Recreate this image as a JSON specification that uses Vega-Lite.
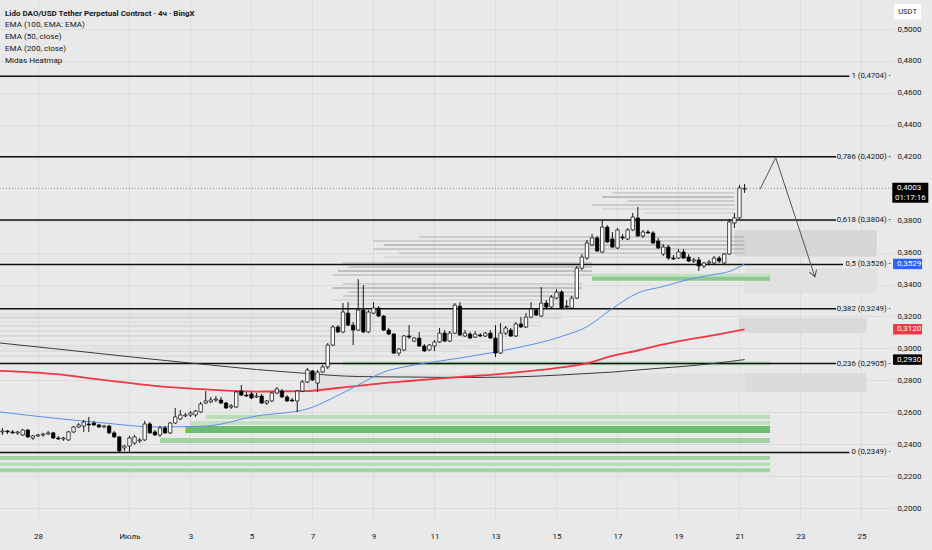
{
"$schema": "https://vega.github.io/schema/vega-lite/v6.json",
"width": 893, "height": 522,
"autosize": {"type": "none"},
"padding": {"left": 0, "top": 0, "right": 39, "bottom": 28},
"background": "#e9e9e9",
"config": {"view": {"stroke": null}, "font": "Roboto",
  "axis": {"labelOverlap": false, "labelFlush": false, "grid": true, "gridColor": "#dcdcdc", "gridWidth": 1, "domain": false, "ticks": false, "tickSize": 0, "labelFont": "Roboto", "labelFontSize": 8, "labelColor": "#131722", "zindex": 0},
  "axisY": {"labelAlign": "left", "labelBaseline": "middle", "labelPadding": 4},
  "axisX": {"labelPadding": 10}},
"title": {"text": "Lido DAO/USD Tether Perpetual Contract · 4ч · BingX", "subtitle": ["EMA (100, EMA: EMA)", "EMA (50, close)", "EMA (200, close)", "Midas Heatmap"], "anchor": "start", "frame": "group", "orient": "top", "offset": -65, "dx": 5, "font": "Roboto", "fontSize": 8, "fontWeight": "bold", "color": "#131722", "subtitleFont": "Roboto", "subtitleFontSize": 8.1, "subtitleColor": "#131722", "subtitlePadding": 2.5, "subtitleLineHeight": 12},
"datasets": {
"candles": [
{"t":"2024-06-26T20:00Z","o":0.2477,"h":0.2502,"l":0.2458,"c":0.2483},
{"t":"2024-06-27T00:00Z","o":0.2483,"h":0.2489,"l":0.2464,"c":0.2477},
{"t":"2024-06-27T04:00Z","o":0.2477,"h":0.2489,"l":0.2464,"c":0.2471},
{"t":"2024-06-27T08:00Z","o":0.2471,"h":0.2483,"l":0.2458,"c":0.2477},
{"t":"2024-06-27T12:00Z","o":0.2458,"h":0.2496,"l":0.2452,"c":0.2489},
{"t":"2024-06-27T16:00Z","o":0.2489,"h":0.2496,"l":0.2439,"c":0.2446},
{"t":"2024-06-27T20:00Z","o":0.2439,"h":0.2458,"l":0.2427,"c":0.2452},
{"t":"2024-06-28T00:00Z","o":0.2452,"h":0.2464,"l":0.2446,"c":0.2458},
{"t":"2024-06-28T04:00Z","o":0.2458,"h":0.2471,"l":0.2446,"c":0.2464},
{"t":"2024-06-28T08:00Z","o":0.2464,"h":0.2483,"l":0.2458,"c":0.2471},
{"t":"2024-06-28T12:00Z","o":0.2471,"h":0.2477,"l":0.2433,"c":0.2439},
{"t":"2024-06-28T16:00Z","o":0.2439,"h":0.2452,"l":0.2427,"c":0.2433},
{"t":"2024-06-28T20:00Z","o":0.2433,"h":0.2446,"l":0.2421,"c":0.2439},
{"t":"2024-06-29T00:00Z","o":0.2427,"h":0.2483,"l":0.2421,"c":0.2477},
{"t":"2024-06-29T04:00Z","o":0.2477,"h":0.2514,"l":0.2471,"c":0.2508},
{"t":"2024-06-29T08:00Z","o":0.2508,"h":0.2533,"l":0.2502,"c":0.2521},
{"t":"2024-06-29T12:00Z","o":0.2514,"h":0.2552,"l":0.2477,"c":0.2539},
{"t":"2024-06-29T16:00Z","o":0.2527,"h":0.2571,"l":0.2477,"c":0.2521},
{"t":"2024-06-29T20:00Z","o":0.2533,"h":0.2546,"l":0.2514,"c":0.2521},
{"t":"2024-06-30T00:00Z","o":0.2521,"h":0.2527,"l":0.2502,"c":0.2508},
{"t":"2024-06-30T04:00Z","o":0.2508,"h":0.2521,"l":0.2502,"c":0.2514},
{"t":"2024-06-30T08:00Z","o":0.2514,"h":0.2521,"l":0.2464,"c":0.2471},
{"t":"2024-06-30T12:00Z","o":0.2471,"h":0.2483,"l":0.2439,"c":0.2446},
{"t":"2024-06-30T16:00Z","o":0.2446,"h":0.2452,"l":0.2352,"c":0.2358},
{"t":"2024-06-30T20:00Z","o":0.2377,"h":0.2396,"l":0.2358,"c":0.2389},
{"t":"2024-07-01T00:00Z","o":0.2389,"h":0.2452,"l":0.2349,"c":0.2439},
{"t":"2024-07-01T04:00Z","o":0.2408,"h":0.2458,"l":0.2396,"c":0.2446},
{"t":"2024-07-01T08:00Z","o":0.2421,"h":0.2439,"l":0.2408,"c":0.2427},
{"t":"2024-07-01T12:00Z","o":0.2427,"h":0.2546,"l":0.2421,"c":0.2527},
{"t":"2024-07-01T16:00Z","o":0.2527,"h":0.2539,"l":0.2464,"c":0.2471},
{"t":"2024-07-01T20:00Z","o":0.2477,"h":0.2489,"l":0.2452,"c":0.2458},
{"t":"2024-07-02T00:00Z","o":0.2458,"h":0.2514,"l":0.2446,"c":0.2502},
{"t":"2024-07-02T04:00Z","o":0.2502,"h":0.2514,"l":0.2464,"c":0.2471},
{"t":"2024-07-02T08:00Z","o":0.2471,"h":0.2539,"l":0.2464,"c":0.2533},
{"t":"2024-07-02T12:00Z","o":0.2533,"h":0.2627,"l":0.2527,"c":0.2571},
{"t":"2024-07-02T16:00Z","o":0.2558,"h":0.2615,"l":0.2552,"c":0.2583},
{"t":"2024-07-02T20:00Z","o":0.2577,"h":0.2596,"l":0.2571,"c":0.2583},
{"t":"2024-07-03T00:00Z","o":0.2583,"h":0.2608,"l":0.2571,"c":0.2596},
{"t":"2024-07-03T04:00Z","o":0.2583,"h":0.2615,"l":0.2571,"c":0.2608},
{"t":"2024-07-03T08:00Z","o":0.2602,"h":0.2665,"l":0.2596,"c":0.2652},
{"t":"2024-07-03T12:00Z","o":0.2658,"h":0.2733,"l":0.2652,"c":0.2671},
{"t":"2024-07-03T16:00Z","o":0.2665,"h":0.2696,"l":0.2658,"c":0.2677},
{"t":"2024-07-03T20:00Z","o":0.2677,"h":0.2702,"l":0.2665,"c":0.2683},
{"t":"2024-07-04T00:00Z","o":0.2677,"h":0.2696,"l":0.2652,"c":0.2658},
{"t":"2024-07-04T04:00Z","o":0.2658,"h":0.2665,"l":0.2621,"c":0.2627},
{"t":"2024-07-04T08:00Z","o":0.2633,"h":0.2652,"l":0.2621,"c":0.2640},
{"t":"2024-07-04T12:00Z","o":0.2633,"h":0.2733,"l":0.2627,"c":0.2727},
{"t":"2024-07-04T16:00Z","o":0.2733,"h":0.2771,"l":0.2702,"c":0.2708},
{"t":"2024-07-04T20:00Z","o":0.2708,"h":0.2727,"l":0.2696,"c":0.2702},
{"t":"2024-07-05T00:00Z","o":0.2715,"h":0.2727,"l":0.2683,"c":0.2690},
{"t":"2024-07-05T04:00Z","o":0.2696,"h":0.2721,"l":0.2690,"c":0.2702},
{"t":"2024-07-05T08:00Z","o":0.2702,"h":0.2715,"l":0.2652,"c":0.2658},
{"t":"2024-07-05T12:00Z","o":0.2658,"h":0.2677,"l":0.2646,"c":0.2671},
{"t":"2024-07-05T16:00Z","o":0.2671,"h":0.2727,"l":0.2665,"c":0.2721},
{"t":"2024-07-05T20:00Z","o":0.2721,"h":0.2758,"l":0.2715,"c":0.2746},
{"t":"2024-07-06T00:00Z","o":0.2733,"h":0.2746,"l":0.2690,"c":0.2696},
{"t":"2024-07-06T04:00Z","o":0.2696,"h":0.2708,"l":0.2665,"c":0.2671},
{"t":"2024-07-06T08:00Z","o":0.2677,"h":0.2690,"l":0.2665,"c":0.2671},
{"t":"2024-07-06T12:00Z","o":0.2671,"h":0.2740,"l":0.2602,"c":0.2733},
{"t":"2024-07-06T16:00Z","o":0.2733,"h":0.2802,"l":0.2727,"c":0.2790},
{"t":"2024-07-06T20:00Z","o":0.2790,"h":0.2877,"l":0.2783,"c":0.2865},
{"t":"2024-07-07T00:00Z","o":0.2859,"h":0.2865,"l":0.2796,"c":0.2802},
{"t":"2024-07-07T04:00Z","o":0.2783,"h":0.2865,"l":0.2727,"c":0.2852},
{"t":"2024-07-07T08:00Z","o":0.2852,"h":0.2896,"l":0.2846,"c":0.2884},
{"t":"2024-07-07T12:00Z","o":0.2884,"h":0.3034,"l":0.2871,"c":0.3021},
{"t":"2024-07-07T16:00Z","o":0.3021,"h":0.3146,"l":0.3015,"c":0.3134},
{"t":"2024-07-07T20:00Z","o":0.3134,"h":0.3146,"l":0.3096,"c":0.3103},
{"t":"2024-07-08T00:00Z","o":0.3103,"h":0.3284,"l":0.3096,"c":0.3228},
{"t":"2024-07-08T04:00Z","o":0.3221,"h":0.3290,"l":0.3140,"c":0.3146},
{"t":"2024-07-08T08:00Z","o":0.3146,"h":0.3165,"l":0.3021,"c":0.3115},
{"t":"2024-07-08T12:00Z","o":0.3115,"h":0.3434,"l":0.3109,"c":0.3240},
{"t":"2024-07-08T16:00Z","o":0.3240,"h":0.3397,"l":0.3096,"c":0.3103},
{"t":"2024-07-08T20:00Z","o":0.3103,"h":0.3240,"l":0.3096,"c":0.3228},
{"t":"2024-07-09T00:00Z","o":0.3221,"h":0.3290,"l":0.3215,"c":0.3253},
{"t":"2024-07-09T04:00Z","o":0.3253,"h":0.3265,"l":0.3196,"c":0.3203},
{"t":"2024-07-09T08:00Z","o":0.3203,"h":0.3209,"l":0.3109,"c":0.3115},
{"t":"2024-07-09T12:00Z","o":0.3115,"h":0.3128,"l":0.3084,"c":0.3090},
{"t":"2024-07-09T16:00Z","o":0.3090,"h":0.3096,"l":0.2965,"c":0.2971},
{"t":"2024-07-09T20:00Z","o":0.2971,"h":0.3002,"l":0.2953,"c":0.2996},
{"t":"2024-07-10T00:00Z","o":0.2990,"h":0.3084,"l":0.2984,"c":0.3078},
{"t":"2024-07-10T04:00Z","o":0.3078,"h":0.3146,"l":0.3059,"c":0.3071},
{"t":"2024-07-10T08:00Z","o":0.3046,"h":0.3071,"l":0.3040,"c":0.3065},
{"t":"2024-07-10T12:00Z","o":0.3065,"h":0.3103,"l":0.3009,"c":0.3015},
{"t":"2024-07-10T16:00Z","o":0.3015,"h":0.3028,"l":0.2978,"c":0.2984},
{"t":"2024-07-10T20:00Z","o":0.2990,"h":0.3028,"l":0.2984,"c":0.3021},
{"t":"2024-07-11T00:00Z","o":0.3015,"h":0.3053,"l":0.2984,"c":0.3040},
{"t":"2024-07-11T04:00Z","o":0.3040,"h":0.3128,"l":0.3034,"c":0.3096},
{"t":"2024-07-11T08:00Z","o":0.3096,"h":0.3115,"l":0.3040,"c":0.3046},
{"t":"2024-07-11T12:00Z","o":0.3046,"h":0.3109,"l":0.3040,"c":0.3096},
{"t":"2024-07-11T16:00Z","o":0.3096,"h":0.3284,"l":0.3090,"c":0.3271},
{"t":"2024-07-11T20:00Z","o":0.3265,"h":0.3290,"l":0.3078,"c":0.3084},
{"t":"2024-07-12T00:00Z","o":0.3078,"h":0.3115,"l":0.3071,"c":0.3096},
{"t":"2024-07-12T04:00Z","o":0.3090,"h":0.3103,"l":0.3059,"c":0.3065},
{"t":"2024-07-12T08:00Z","o":0.3071,"h":0.3109,"l":0.3065,"c":0.3090},
{"t":"2024-07-12T12:00Z","o":0.3084,"h":0.3096,"l":0.3071,"c":0.3078},
{"t":"2024-07-12T16:00Z","o":0.3078,"h":0.3103,"l":0.3071,"c":0.3096},
{"t":"2024-07-12T20:00Z","o":0.3096,"h":0.3115,"l":0.3059,"c":0.3065},
{"t":"2024-07-13T00:00Z","o":0.3065,"h":0.3146,"l":0.2946,"c":0.2971},
{"t":"2024-07-13T04:00Z","o":0.2971,"h":0.3159,"l":0.2965,"c":0.3096},
{"t":"2024-07-13T08:00Z","o":0.3096,"h":0.3140,"l":0.3084,"c":0.3128},
{"t":"2024-07-13T12:00Z","o":0.3115,"h":0.3128,"l":0.3071,"c":0.3078},
{"t":"2024-07-13T16:00Z","o":0.3078,"h":0.3165,"l":0.3071,"c":0.3153},
{"t":"2024-07-13T20:00Z","o":0.3153,"h":0.3196,"l":0.3128,"c":0.3134},
{"t":"2024-07-14T00:00Z","o":0.3134,"h":0.3221,"l":0.3128,"c":0.3196},
{"t":"2024-07-14T04:00Z","o":0.3196,"h":0.3290,"l":0.3190,"c":0.3246},
{"t":"2024-07-14T08:00Z","o":0.3240,"h":0.3253,"l":0.3203,"c":0.3209},
{"t":"2024-07-14T12:00Z","o":0.3203,"h":0.3384,"l":0.3196,"c":0.3284},
{"t":"2024-07-14T16:00Z","o":0.3284,"h":0.3303,"l":0.3253,"c":0.3259},
{"t":"2024-07-14T20:00Z","o":0.3259,"h":0.3334,"l":0.3253,"c":0.3322},
{"t":"2024-07-15T00:00Z","o":0.3315,"h":0.3372,"l":0.3309,"c":0.3353},
{"t":"2024-07-15T04:00Z","o":0.3353,"h":0.3365,"l":0.3246,"c":0.3253},
{"t":"2024-07-15T08:00Z","o":0.3265,"h":0.3303,"l":0.3246,"c":0.3259},
{"t":"2024-07-15T12:00Z","o":0.3253,"h":0.3328,"l":0.3246,"c":0.3315},
{"t":"2024-07-15T16:00Z","o":0.3315,"h":0.3516,"l":0.3309,"c":0.3503},
{"t":"2024-07-15T20:00Z","o":0.3503,"h":0.3591,"l":0.3491,"c":0.3572},
{"t":"2024-07-16T00:00Z","o":0.3566,"h":0.3679,"l":0.3554,"c":0.3660},
{"t":"2024-07-16T04:00Z","o":0.3648,"h":0.3717,"l":0.3641,"c":0.3692},
{"t":"2024-07-16T08:00Z","o":0.3692,"h":0.3704,"l":0.3604,"c":0.3610},
{"t":"2024-07-16T12:00Z","o":0.3604,"h":0.3804,"l":0.3597,"c":0.3760},
{"t":"2024-07-16T16:00Z","o":0.3760,"h":0.3773,"l":0.3660,"c":0.3667},
{"t":"2024-07-16T20:00Z","o":0.3685,"h":0.3729,"l":0.3629,"c":0.3635},
{"t":"2024-07-17T00:00Z","o":0.3629,"h":0.3754,"l":0.3623,"c":0.3742},
{"t":"2024-07-17T04:00Z","o":0.3698,"h":0.3717,"l":0.3679,"c":0.3692},
{"t":"2024-07-17T08:00Z","o":0.3685,"h":0.3754,"l":0.3679,"c":0.3742},
{"t":"2024-07-17T12:00Z","o":0.3742,"h":0.3848,"l":0.3735,"c":0.3823},
{"t":"2024-07-17T16:00Z","o":0.3817,"h":0.3886,"l":0.3698,"c":0.3704},
{"t":"2024-07-17T20:00Z","o":0.3704,"h":0.3742,"l":0.3692,"c":0.3729},
{"t":"2024-07-18T00:00Z","o":0.3729,"h":0.3742,"l":0.3717,"c":0.3723},
{"t":"2024-07-18T04:00Z","o":0.3723,"h":0.3735,"l":0.3654,"c":0.3660},
{"t":"2024-07-18T08:00Z","o":0.3673,"h":0.3692,"l":0.3623,"c":0.3629},
{"t":"2024-07-18T12:00Z","o":0.3591,"h":0.3654,"l":0.3579,"c":0.3635},
{"t":"2024-07-18T16:00Z","o":0.3635,"h":0.3648,"l":0.3554,"c":0.3566},
{"t":"2024-07-18T20:00Z","o":0.3566,"h":0.3585,"l":0.3554,"c":0.3560},
{"t":"2024-07-19T00:00Z","o":0.3566,"h":0.3623,"l":0.3560,"c":0.3604},
{"t":"2024-07-19T04:00Z","o":0.3604,"h":0.3623,"l":0.3560,"c":0.3566},
{"t":"2024-07-19T08:00Z","o":0.3572,"h":0.3591,"l":0.3541,"c":0.3547},
{"t":"2024-07-19T12:00Z","o":0.3547,"h":0.3566,"l":0.3535,"c":0.3554},
{"t":"2024-07-19T16:00Z","o":0.3554,"h":0.3572,"l":0.3485,"c":0.3516},
{"t":"2024-07-19T20:00Z","o":0.3516,"h":0.3541,"l":0.3503,"c":0.3535},
{"t":"2024-07-20T00:00Z","o":0.3535,"h":0.3554,"l":0.3522,"c":0.3541},
{"t":"2024-07-20T04:00Z","o":0.3535,"h":0.3579,"l":0.3522,"c":0.3566},
{"t":"2024-07-20T08:00Z","o":0.3566,"h":0.3579,"l":0.3535,"c":0.3547},
{"t":"2024-07-20T12:00Z","o":0.3535,"h":0.3597,"l":0.3529,"c":0.3591},
{"t":"2024-07-20T16:00Z","o":0.3591,"h":0.3810,"l":0.3585,"c":0.3792},
{"t":"2024-07-20T20:00Z","o":0.3785,"h":0.3848,"l":0.3754,"c":0.3817},
{"t":"2024-07-21T00:00Z","o":0.3817,"h":0.4024,"l":0.3810,"c":0.4005},
{"t":"2024-07-21T04:00Z","o":0.3998,"h":0.4030,"l":0.3974,"c":0.4003}
],
"ema": [
{"s":"EMA200","t":"2024-06-26T18:00Z","p":0.3034},{"s":"EMA200","t":"2024-06-28T12:00Z","p":0.2999},{"s":"EMA200","t":"2024-06-30T04:00Z","p":0.2965},{"s":"EMA200","t":"2024-07-01T20:00Z","p":0.2931},{"s":"EMA200","t":"2024-07-03T12:00Z","p":0.2899},{"s":"EMA200","t":"2024-07-05T04:00Z","p":0.2868},{"s":"EMA200","t":"2024-07-06T20:00Z","p":0.2843},{"s":"EMA200","t":"2024-07-07T16:00Z","p":0.2831},{"s":"EMA200","t":"2024-07-08T12:00Z","p":0.2824},{"s":"EMA200","t":"2024-07-10T04:00Z","p":0.2821},{"s":"EMA200","t":"2024-07-11T20:00Z","p":0.2818},{"s":"EMA200","t":"2024-07-13T12:00Z","p":0.2821},{"s":"EMA200","t":"2024-07-15T04:00Z","p":0.2834},{"s":"EMA200","t":"2024-07-16T00:00Z","p":0.2843},{"s":"EMA200","t":"2024-07-16T20:00Z","p":0.2852},{"s":"EMA200","t":"2024-07-17T16:00Z","p":0.2865},{"s":"EMA200","t":"2024-07-18T12:00Z","p":0.2878},{"s":"EMA200","t":"2024-07-19T08:00Z","p":0.2890},{"s":"EMA200","t":"2024-07-20T04:00Z","p":0.2906},{"s":"EMA200","t":"2024-07-21T04:00Z","p":0.2930},
{"s":"EMA100","t":"2024-06-26T18:00Z","p":0.2859},{"s":"EMA100","t":"2024-06-28T12:00Z","p":0.2840},{"s":"EMA100","t":"2024-06-30T04:00Z","p":0.2802},{"s":"EMA100","t":"2024-07-01T20:00Z","p":0.2765},{"s":"EMA100","t":"2024-07-03T12:00Z","p":0.2743},{"s":"EMA100","t":"2024-07-05T04:00Z","p":0.2730},{"s":"EMA100","t":"2024-07-06T20:00Z","p":0.2733},{"s":"EMA100","t":"2024-07-07T16:00Z","p":0.2749},{"s":"EMA100","t":"2024-07-08T12:00Z","p":0.2765},{"s":"EMA100","t":"2024-07-09T08:00Z","p":0.2783},{"s":"EMA100","t":"2024-07-10T04:00Z","p":0.2796},{"s":"EMA100","t":"2024-07-11T20:00Z","p":0.2821},{"s":"EMA100","t":"2024-07-13T12:00Z","p":0.2846},{"s":"EMA100","t":"2024-07-15T04:00Z","p":0.2881},{"s":"EMA100","t":"2024-07-16T00:00Z","p":0.2906},{"s":"EMA100","t":"2024-07-16T20:00Z","p":0.2953},{"s":"EMA100","t":"2024-07-17T16:00Z","p":0.2987},{"s":"EMA100","t":"2024-07-18T12:00Z","p":0.3025},{"s":"EMA100","t":"2024-07-19T08:00Z","p":0.3056},{"s":"EMA100","t":"2024-07-20T04:00Z","p":0.3084},{"s":"EMA100","t":"2024-07-21T04:00Z","p":0.3120},
{"s":"EMA50","t":"2024-06-26T18:00Z","p":0.2602},{"s":"EMA50","t":"2024-06-28T12:00Z","p":0.2564},{"s":"EMA50","t":"2024-06-30T04:00Z","p":0.2533},{"s":"EMA50","t":"2024-07-01T20:00Z","p":0.2508},{"s":"EMA50","t":"2024-07-03T12:00Z","p":0.2514},{"s":"EMA50","t":"2024-07-05T04:00Z","p":0.2577},{"s":"EMA50","t":"2024-07-06T20:00Z","p":0.2621},{"s":"EMA50","t":"2024-07-07T16:00Z","p":0.2690},{"s":"EMA50","t":"2024-07-08T12:00Z","p":0.2771},{"s":"EMA50","t":"2024-07-09T08:00Z","p":0.2852},{"s":"EMA50","t":"2024-07-10T04:00Z","p":0.2890},{"s":"EMA50","t":"2024-07-11T20:00Z","p":0.2940},{"s":"EMA50","t":"2024-07-13T12:00Z","p":0.2996},{"s":"EMA50","t":"2024-07-15T04:00Z","p":0.3075},{"s":"EMA50","t":"2024-07-16T00:00Z","p":0.3136},{"s":"EMA50","t":"2024-07-16T20:00Z","p":0.3250},{"s":"EMA50","t":"2024-07-17T16:00Z","p":0.3347},{"s":"EMA50","t":"2024-07-18T12:00Z","p":0.3388},{"s":"EMA50","t":"2024-07-19T08:00Z","p":0.3432},{"s":"EMA50","t":"2024-07-20T04:00Z","p":0.3463},{"s":"EMA50","t":"2024-07-20T16:00Z","p":0.3482},{"s":"EMA50","t":"2024-07-21T04:00Z","p":0.3529}
],
"heat": [
{"p":0.3974,"t0":"2024-07-16T20:00Z","t1":"2024-07-20T20:00Z","v":2},
{"p":0.3948,"t0":"2024-07-16T12:00Z","t1":"2024-07-20T20:00Z","v":3},
{"p":0.3923,"t0":"2024-07-17T08:00Z","t1":"2024-07-20T20:00Z","v":2},
{"p":0.3898,"t0":"2024-07-16T04:00Z","t1":"2024-07-20T20:00Z","v":2},
{"p":0.3873,"t0":"2024-07-16T12:00Z","t1":"2024-07-20T20:00Z","v":1},
{"p":0.3848,"t0":"2024-07-17T20:00Z","t1":"2024-07-20T20:00Z","v":1},
{"p":0.3698,"t0":"2024-07-10T12:00Z","t1":"2024-07-21T04:00Z","v":2},
{"p":0.3673,"t0":"2024-07-09T00:00Z","t1":"2024-07-21T04:00Z","v":2},
{"p":0.3648,"t0":"2024-07-09T08:00Z","t1":"2024-07-21T04:00Z","v":3},
{"p":0.3623,"t0":"2024-07-09T00:00Z","t1":"2024-07-21T04:00Z","v":2},
{"p":0.3597,"t0":"2024-07-09T20:00Z","t1":"2024-07-21T04:00Z","v":2},
{"p":0.3572,"t0":"2024-07-09T08:00Z","t1":"2024-07-19T16:00Z","v":1},
{"p":0.3535,"t0":"2024-07-08T00:00Z","t1":"2024-07-16T04:00Z","v":2},
{"p":0.3510,"t0":"2024-07-08T04:00Z","t1":"2024-07-16T04:00Z","v":2},
{"p":0.3485,"t0":"2024-07-07T20:00Z","t1":"2024-07-16T04:00Z","v":3},
{"p":0.3460,"t0":"2024-07-07T16:00Z","t1":"2024-07-16T04:00Z","v":2},
{"p":0.3404,"t0":"2024-07-08T00:00Z","t1":"2024-07-15T20:00Z","v":2},
{"p":0.3378,"t0":"2024-07-07T16:00Z","t1":"2024-07-15T20:00Z","v":3},
{"p":0.3353,"t0":"2024-07-08T04:00Z","t1":"2024-07-15T16:00Z","v":2},
{"p":0.3328,"t0":"2024-07-08T00:00Z","t1":"2024-07-15T16:00Z","v":2},
{"p":0.3303,"t0":"2024-07-07T16:00Z","t1":"2024-07-15T04:00Z","v":1},
{"p":0.3278,"t0":"2024-07-08T04:00Z","t1":"2024-07-15T04:00Z","v":1},
{"p":0.3216,"t0":"2024-06-26T18:00Z","t1":"2024-07-15T04:00Z","v":0.6},
{"p":0.3190,"t0":"2024-06-26T18:00Z","t1":"2024-07-15T04:00Z","v":1},
{"p":0.3165,"t0":"2024-06-26T18:00Z","t1":"2024-07-14T12:00Z","v":0.6},
{"p":0.3141,"t0":"2024-06-26T18:00Z","t1":"2024-07-14T12:00Z","v":1},
{"p":0.3109,"t0":"2024-06-26T18:00Z","t1":"2024-07-13T20:00Z","v":0.6},
{"p":0.3078,"t0":"2024-06-26T18:00Z","t1":"2024-07-13T20:00Z","v":1},
{"p":0.3047,"t0":"2024-06-26T18:00Z","t1":"2024-07-13T04:00Z","v":0.6},
{"p":0.3015,"t0":"2024-06-26T18:00Z","t1":"2024-07-12T12:00Z","v":0.6},
{"p":0.2984,"t0":"2024-06-26T18:00Z","t1":"2024-07-11T20:00Z","v":0.6},
{"p":0.2953,"t0":"2024-06-26T18:00Z","t1":"2024-07-11T04:00Z","v":0.6}
],
"green": [
{"p0":0.3449,"p1":0.3468,"t0":"2024-07-16T04:00Z","t1":"2024-07-22T00:00Z","v":1},
{"p0":0.3424,"p1":0.3449,"t0":"2024-07-16T04:00Z","t1":"2024-07-22T00:00Z","v":2.3},
{"p0":0.2895,"p1":0.2918,"t0":"2024-07-08T00:00Z","t1":"2024-07-22T00:00Z","v":1.3},
{"p0":0.2558,"p1":0.2583,"t0":"2024-07-03T12:00Z","t1":"2024-07-22T00:00Z","v":1.2},
{"p0":0.2521,"p1":0.2546,"t0":"2024-07-03T00:00Z","t1":"2024-07-22T00:00Z","v":1},
{"p0":0.2471,"p1":0.2514,"t0":"2024-07-02T20:00Z","t1":"2024-07-22T00:00Z","v":3},
{"p0":0.2408,"p1":0.2439,"t0":"2024-07-02T00:00Z","t1":"2024-07-22T00:00Z","v":1.8},
{"p0":0.2301,"p1":0.2327,"t0":"2024-06-26T18:00Z","t1":"2024-07-22T00:00Z","v":1.8},
{"p0":0.2264,"p1":0.2285,"t0":"2024-06-26T18:00Z","t1":"2024-07-22T00:00Z","v":1.3},
{"p0":0.2225,"p1":0.2250,"t0":"2024-06-26T18:00Z","t1":"2024-07-22T00:00Z","v":1.8}
],
"blocks": [
{"p0":0.3575,"p1":0.3742,"t0":"2024-07-20T20:00Z","t1":"2024-07-25T12:00Z","v":3},
{"p0":0.3347,"p1":0.3503,"t0":"2024-07-21T04:00Z","t1":"2024-07-25T12:00Z","v":1},
{"p0":0.3096,"p1":0.3190,"t0":"2024-07-21T00:00Z","t1":"2024-07-25T04:00Z","v":2.3},
{"p0":0.2727,"p1":0.2846,"t0":"2024-07-06T20:00Z","t1":"2024-07-21T04:00Z","v":1},
{"p0":0.2727,"p1":0.2846,"t0":"2024-07-21T04:00Z","t1":"2024-07-25T04:00Z","v":2}
],
"fib": [
{"p":0.4704,"lab":"1 (0,4704) -","t0":"2024-06-26T18:00Z","t1":"2024-07-24T14:30Z"},
{"p":0.4200,"lab":"0,786 (0,4200) -","t0":"2024-06-26T18:00Z","t1":"2024-07-24T04:00Z"},
{"p":0.3804,"lab":"0,618 (0,3804) -","t0":"2024-06-26T18:00Z","t1":"2024-07-24T04:00Z"},
{"p":0.3526,"lab":"0,5 (0,3526) -","t0":"2024-06-26T18:00Z","t1":"2024-07-24T09:30Z"},
{"p":0.3249,"lab":"0,382 (0,3249) -","t0":"2024-06-26T18:00Z","t1":"2024-07-24T04:00Z"},
{"p":0.2905,"lab":"0,236 (0,2905) -","t0":"2024-06-26T18:00Z","t1":"2024-07-24T04:00Z"},
{"p":0.2349,"lab":"0 (0,2349) -","t0":"2024-06-26T18:00Z","t1":"2024-07-24T14:30Z"}
],
"tags": [
{"s":"EMA50","p":0.3529,"label":"0,3529"},
{"s":"EMA100","p":0.3120,"label":"0,3120"},
{"s":"EMA200","p":0.2930,"label":"0,2930"}
],
"cur": [{"p":0.4003,"label":"0,4003","timer":"01:17:16","t0":"2024-06-26T18:00Z","t1":"2024-07-26T01:00Z"}],
"arrow": [
{"n":1,"t":"2024-07-21T16:10Z","p":0.3997},
{"n":2,"t":"2024-07-22T04:30Z","p":0.4195},
{"n":3,"t":"2024-07-23T11:20Z","p":0.3449}
],
"unit": [{"p":0.5109,"label":"USDT"}]
},
"layer": [
{"data":{"name":"blocks"},"mark":{"type":"rect"},"encoding":{
 "x":{"field":"t0","type":"temporal","scale":{"type":"utc","domain":[1719425220000,1721954880000],"padding":0},
   "axis":{"values":[1719532800000,1719792000000,1719964800000,1720137600000,1720310400000,1720483200000,1720656000000,1720828800000,1721001600000,1721174400000,1721347200000,1721520000000,1721692800000,1721865600000],
   "labelExpr":"utcdate(datum.value) == 1 ? 'Июль' : '' + utcdate(datum.value)","title":null,"labelPadding":10,"labelOverlap":false,"labelFlush":false}},
 "x2":{"field":"t1"},
 "y":{"field":"p0","type":"quantitative","scale":{"domain":[0.1913,0.5182],"nice":false,"zero":false,"padding":0},
   "axis":{"orient":"right","values":[0.2,0.22,0.24,0.26,0.28,0.3,0.32,0.34,0.36,0.38,0.42,0.44,0.46,0.48,0.5],"tickCount":17,"labelExpr":"replace(format(datum.value, '.4f'), '.', ',')","title":null,"labelPadding":4,"labelAlign":"left","labelBaseline":"middle","labelOverlap":false,"labelFlush":false}},
 "y2":{"field":"p1"},
 "color":{"field":"v","type":"quantitative","scale":{"domain":[1,3],"range":["#e1e1e1","#d6d6d6"]},"legend":null}}},
{"data":{"name":"heat"},"mark":{"type":"rule","color":"#a3a3a3","strokeWidth":1.4},"encoding":{
 "x":{"field":"t0","type":"temporal"},"x2":{"field":"t1"},
 "y":{"field":"p","type":"quantitative"},
 "opacity":{"field":"v","type":"quantitative","scale":{"domain":[1,3],"range":[0.3,0.8]},"legend":null}}},
{"data":{"name":"green"},"mark":{"type":"rect"},"encoding":{
 "x":{"field":"t0","type":"temporal"},"x2":{"field":"t1"},
 "y":{"field":"p0","type":"quantitative"},"y2":{"field":"p1"},
 "color":{"field":"v","type":"quantitative","scale":{"domain":[1,3],"range":["#c1e1c1","#6dbd71"]},"legend":null}}},
{"data":{"name":"fib"},"mark":{"type":"rule","color":"#111111","strokeWidth":1.5},"encoding":{
 "x":{"field":"t0","type":"temporal"},"x2":{"field":"t1"},
 "y":{"field":"p","type":"quantitative"}}},
{"data":{"name":"fib"},"mark":{"type":"text","align":"right","baseline":"middle","font":"Roboto","fontSize":7.8,"color":"#131722"},"encoding":{
 "x":{"datum":1721948400000,"type":"temporal"},
 "y":{"field":"p","type":"quantitative"},"text":{"field":"lab"}}},
{"data":{"name":"cur"},"mark":{"type":"rule","color":"#8c8c8c","strokeWidth":1,"strokeDash":[1,2]},"encoding":{
 "x":{"field":"t0","type":"temporal"},"x2":{"field":"t1"},
 "y":{"field":"p","type":"quantitative"}}},
{"data":{"name":"ema"},"transform":[{"filter":"datum.s == 'EMA200'"}],"mark":{"type":"line","interpolate":"monotone","color":"#3b3b3b","strokeWidth":1},"encoding":{
 "x":{"field":"t","type":"temporal"},
 "y":{"field":"p","type":"quantitative"}}},
{"data":{"name":"ema"},"transform":[{"filter":"datum.s == 'EMA100'"}],"mark":{"type":"line","interpolate":"monotone","color":"#f23645","strokeWidth":1.8},"encoding":{
 "x":{"field":"t","type":"temporal"},
 "y":{"field":"p","type":"quantitative"}}},
{"data":{"name":"ema"},"transform":[{"filter":"datum.s == 'EMA50'"}],"mark":{"type":"line","interpolate":"monotone","color":"#5a8ef0","strokeWidth":1},"encoding":{
 "x":{"field":"t","type":"temporal"},
 "y":{"field":"p","type":"quantitative"}}},
{"data":{"name":"candles"},"mark":{"type":"rule","color":"#000000","strokeWidth":0.9},"encoding":{
 "x":{"field":"t","type":"temporal"},
 "y":{"field":"l","type":"quantitative"},"y2":{"field":"h"}}},
{"data":{"name":"candles"},"mark":{"type":"bar","size":3.4,"stroke":"#000000","strokeWidth":0.7},"encoding":{
 "x":{"field":"t","type":"temporal"},
 "y":{"field":"o","type":"quantitative"},"y2":{"field":"c"},
 "fill":{"condition":{"test":"datum.c >= datum.o","value":"#ffffff"},"value":"#000000"}}},
{"data":{"name":"arrow"},"mark":{"type":"line","color":"#555555","strokeWidth":1},"encoding":{
 "x":{"field":"t","type":"temporal"},
 "y":{"field":"p","type":"quantitative"}}},
{"data":{"name":"arrow"},"transform":[{"filter":"datum.n == 3"}],"mark":{"type":"point","shape":"M-0.6,-1L0,0L0.6,-1","filled":false,"stroke":"#555555","strokeWidth":1,"size":160,"angle":-18,"opacity":1},"encoding":{
 "x":{"field":"t","type":"temporal"},
 "y":{"field":"p","type":"quantitative"}}},
{"data":{"name":"tags"},"mark":{"type":"point","shape":"M-1,-0.36L1,-0.36L1,0.36L-1,0.36Z","filled":true,"size":841,"opacity":1,"strokeWidth":0},"encoding":{
 "x":{"datum":1721996100000,"type":"temporal"},
 "y":{"field":"p","type":"quantitative"},
 "color":{"field":"s","type":"nominal","scale":{"domain":["EMA50","EMA100","EMA200"],"range":["#2962ff","#f23645","#000000"]},"legend":null}}},
{"data":{"name":"tags"},"mark":{"type":"text","align":"left","baseline":"middle","font":"Roboto","fontSize":8,"color":"#ffffff"},"encoding":{
 "x":{"datum":1721966400000,"type":"temporal"},
 "y":{"field":"p","type":"quantitative"},"text":{"field":"label"}}},
{"data":{"name":"cur"},"mark":{"type":"point","shape":"M-1,-0.3L1,-0.3L1,0.81L-1,0.81Z","filled":true,"size":1296,"opacity":1,"color":"#000000","strokeWidth":0},"encoding":{
 "x":{"datum":1722003900000,"type":"temporal"},
 "y":{"field":"p","type":"quantitative"}}},
{"data":{"name":"cur"},"mark":{"type":"text","align":"left","baseline":"middle","font":"Roboto","fontSize":8,"color":"#ffffff"},"encoding":{
 "x":{"datum":1721966400000,"type":"temporal"},
 "y":{"field":"p","type":"quantitative"},"text":{"field":"label"}}},
{"data":{"name":"cur"},"mark":{"type":"text","align":"center","baseline":"middle","font":"Roboto","fontSize":8,"color":"#ffffff","dy":10},"encoding":{
 "x":{"datum":1722003900000,"type":"temporal"},
 "y":{"field":"p","type":"quantitative"},"text":{"field":"timer"}}},
{"data":{"name":"unit"},"mark":{"type":"point","shape":"M-1,-0.56L1,-0.56L1,0.56L-1,0.56Z","filled":true,"size":729,"opacity":1,"color":"#ffffff","strokeWidth":0},"encoding":{
 "x":{"datum":1721996100000,"type":"temporal"},
 "y":{"field":"p","type":"quantitative"}}},
{"data":{"name":"unit"},"mark":{"type":"text","align":"center","baseline":"middle","font":"Roboto","fontSize":7.5,"color":"#131722"},"encoding":{
 "x":{"datum":1721996100000,"type":"temporal"},
 "y":{"field":"p","type":"quantitative"},"text":{"field":"label"}}}
],
"resolve": {"scale": {"color": "independent", "opacity": "independent"}}
}
